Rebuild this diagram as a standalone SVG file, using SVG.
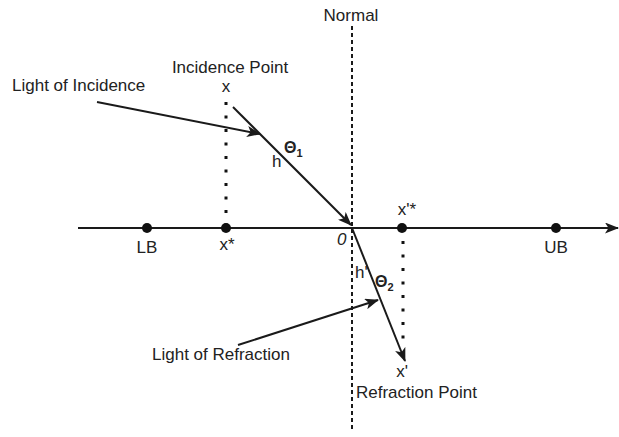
<svg xmlns="http://www.w3.org/2000/svg" width="619" height="437" viewBox="0 0 619 437">
<defs>
<marker id="arr" viewBox="0 0 14 11" refX="13" refY="5.5" markerWidth="14" markerHeight="11" markerUnits="userSpaceOnUse" orient="auto">
<path d="M0,0 L14,5.5 L0,11 L3.5,5.5 Z" fill="#1a1a1a"/>
</marker>
</defs>
<style>
.t{font-family:"Liberation Sans",Arial,sans-serif;font-size:17px;fill:#222}
.c{text-anchor:middle}
.g{font-size:16px;font-weight:bold}
.ln{stroke:#1a1a1a;stroke-width:2;fill:none}
.dot{stroke:#111;stroke-width:3;stroke-dasharray:3 10.5;fill:none}
.pt{fill:#111}
</style>
<rect width="619" height="437" fill="#fff"/>
<g id="connectors">
<line id="normal-line" x1="352" y1="26" x2="352" y2="432" stroke="#1a1a1a" stroke-width="2" stroke-dasharray="4 3"/>
<line id="axis" class="ln" x1="78" y1="228" x2="618" y2="228" marker-end="url(#arr)"/>
<line class="dot" x1="226" y1="102" x2="226" y2="228"/>
<line class="dot" x1="403" y1="241" x2="403" y2="340"/>
<line id="incident-ray" class="ln" x1="233" y1="107" x2="351" y2="225" marker-end="url(#arr)"/>
<line id="refracted-ray" class="ln" x1="352" y1="228" x2="405" y2="361" marker-end="url(#arr)"/>
<line id="incidence-pointer" class="ln" x1="97" y1="102" x2="260" y2="134" marker-end="url(#arr)"/>
<line id="refraction-pointer" class="ln" x1="238" y1="345" x2="378" y2="300" marker-end="url(#arr)"/>
</g>
<g id="LB"><circle class="pt" cx="147" cy="228" r="5"/><text class="t c" x="147" y="253">LB</text></g>
<g id="xstar"><circle class="pt" cx="226" cy="228" r="5"/><text class="t c" x="227" y="250">x*</text></g>
<g id="xprimestar"><circle class="pt" cx="402" cy="228" r="5"/><text class="t c" x="407" y="215">x'*</text></g>
<g id="UB"><circle class="pt" cx="556" cy="228" r="5"/><text class="t c" x="556" y="253">UB</text></g>
<g id="normal-label"><text class="t c" x="351" y="21">Normal</text></g>
<g id="incidence-point"><text class="t c" x="230" y="73">Incidence Point</text><text class="t c" x="226" y="92">x</text></g>
<g id="light-incidence"><text class="t" x="12" y="91">Light of Incidence</text></g>
<g id="theta1"><text class="t" x="272" y="167">h</text><text class="t g" x="284" y="153">Θ<tspan font-size="11" dy="4">1</tspan></text></g>
<g id="origin"><text class="t" x="337" y="245" font-style="italic" font-size="16">0</text></g>
<g id="theta2"><text class="t" x="355" y="278" font-size="16">h'</text><text class="t g" x="375" y="287">Θ<tspan font-size="11" dy="4">2</tspan></text></g>
<g id="light-refraction"><text class="t" x="152" y="360">Light of Refraction</text></g>
<g id="refraction-point"><text class="t c" x="402" y="377">x'</text><text class="t" x="356" y="398">Refraction Point</text></g>
</svg>
